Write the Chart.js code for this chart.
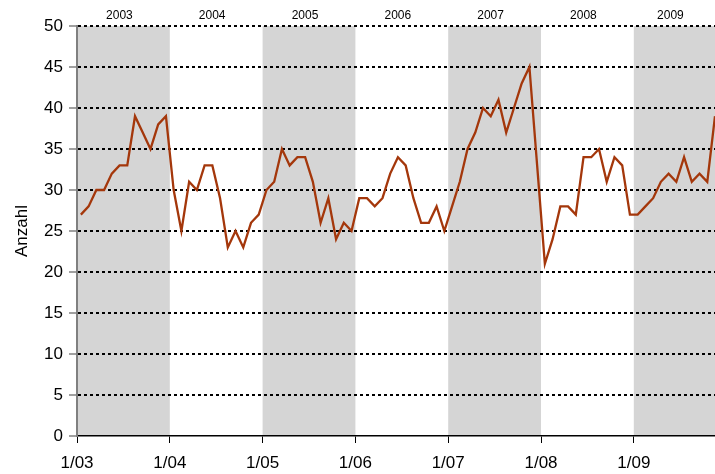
<!DOCTYPE html>
<html>
<head>
<meta charset="utf-8">
<script src="https://cdn.jsdelivr.net/npm/chart.js@4/dist/chart.umd.min.js"></script>
<style>
  html, body { margin: 0; padding: 0; background: #fff; }
  #wrap { width: 715px; height: 474px; }
</style>
</head>
<body>
<div id="wrap"><canvas id="chart" width="715" height="474"></canvas></div>
<script>
// year bands shown on top of the plot
const years = ['2003', '2004', '2005', '2006', '2007', '2008', '2009'];
// labels for the january ticks
const tickLabels = ['1/03', '1/04', '1/05', '1/06', '1/07', '1/08', '1/09'];

// monthly counts
const counts2003 = [27, 28, 30, 30, 32, 33, 33, 39, 37, 35, 38, 39];
const counts2004 = [30, 25, 31, 30, 33, 33, 29, 23, 25, 23, 26, 27];
const counts2005 = [30, 31, 35, 33, 34, 34, 31, 26, 29, 24, 26, 25];
const counts2006 = [29, 29, 28, 29, 32, 34, 33, 29, 26, 26, 28, 25];
const counts2007 = [28, 31, 35, 37, 40, 39, 41, 37, 40, 43, 45, 33];
const counts2008 = [21, 24, 28, 28, 27, 34, 34, 35, 31, 34, 33, 27];
const counts2009 = [27, 28, 29, 31, 32, 31, 34, 31, 32, 31, 39];

const allCounts = [].concat(counts2003, counts2004, counts2005, counts2006,
                            counts2007, counts2008, counts2009);
// each month sits in the middle of its slot
const points = allCounts.map((v, i) => ({ x: i + 0.5, y: v }));

const FONT = '"Liberation Sans", Arial, sans-serif';

// grey bands for every other year + year names at the top
const yearBands = {
  id: 'yearBands',
  beforeDraw(chart) {
    const { ctx, chartArea, scales } = chart;
    const x = scales.x;
    ctx.save();
    years.forEach(function(yr, k) {
      const x0 = x.getPixelForValue(k * 12);
      const x1 = Math.min(x.getPixelForValue((k + 1) * 12), chartArea.right);
      if (k % 2 === 0) {
        ctx.fillStyle = '#d5d5d5';
        ctx.fillRect(x0, chartArea.top, x1 - x0, chartArea.bottom - chartArea.top);
      }
      ctx.fillStyle = '#000';
      ctx.font = '12px ' + FONT;
      ctx.textAlign = 'center';
      ctx.textBaseline = 'middle';
      ctx.fillText(yr, (x0 + x1) / 2 - 4, chartArea.top - 10);
    });
    ctx.restore();
  }
};

const chartConfig = {
  type: 'line',
  data: {
    datasets: [{
      label: 'Anzahl',
      data: points,
      borderColor: '#a4370b',
      borderWidth: 2.3,
      pointRadius: 0,
      tension: 0,
      fill: false
    }]
  },
  options: {
    responsive: false,
    animation: false,
    devicePixelRatio: 1,
    layout: { padding: { top: 26, right: 0, left: 0, bottom: 0 } },
    plugins: {
      legend: { display: false },
      tooltip: { enabled: false }
    },
    scales: {
      x: {
        type: 'linear',
        min: 0,
        max: 82.5,
        afterBuildTicks: function(scale) {
          scale.ticks = tickLabels.map((t, k) => ({ value: k * 12 }));
        },
        afterFit: function(scale) { scale.height = 38; },
        ticks: {
          autoSkip: false,
          maxRotation: 0,
          color: '#000',
          padding: 10,
          font: { family: FONT, size: 17 },
          callback: function(value) { return tickLabels[Math.round(value / 12)]; }
        },
        grid: {
          drawOnChartArea: false,
          drawTicks: true,
          tickLength: 7,
          tickColor: '#000',
          tickWidth: 1
        },
        border: { color: '#000', width: 1.5 }
      },
      y: {
        min: 0,
        max: 50,
        afterFit: function(scale) { scale.width = 77; },
        ticks: {
          stepSize: 5,
          color: '#000',
          padding: 6,
          font: { family: FONT, size: 17 }
        },
        title: {
          display: true,
          text: 'Anzahl',
          color: '#000',
          padding: { top: 12, bottom: 0 },
          font: { family: FONT, size: 17 }
        },
        grid: {
          color: function(c) { return c.tick && c.tick.value === 0 ? 'rgba(0,0,0,0)' : '#000'; },
          lineWidth: 2,
          tickLength: 8,
          tickColor: '#808080',
          tickWidth: 1.5
        },
        border: { color: '#808080', width: 2, dash: [3, 3] }
      }
    }
  },
  plugins: [yearBands]
};

const chartCanvas = document.getElementById('chart');
const countChart = new Chart(chartCanvas, chartConfig);
</script>
</body>
</html>
